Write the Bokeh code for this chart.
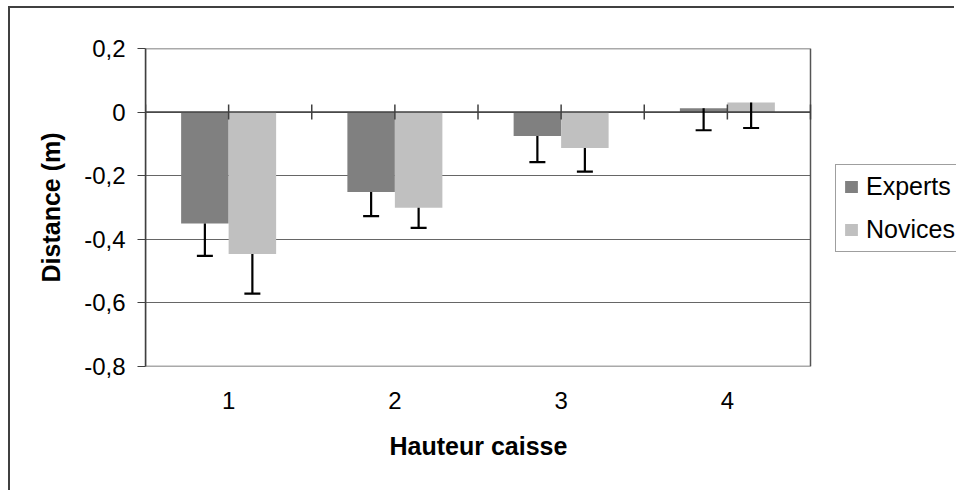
from bokeh.plotting import figure
from bokeh.models import (Range1d, FixedTicker, CustomJSTickFormatter, ColumnDataSource,
                          Whisker, TeeHead, Legend, LegendItem, Title)
from bokeh.embed import file_html
from bokeh.resources import INLINE

# ---- data ----
categories = ["1", "2", "3", "4"]
series_names = ["Experts", "Novices"]
experts = [-0.350, -0.251, -0.075, 0.012]
novices = [-0.446, -0.301, -0.113, 0.030]
experts_err = [0.102, 0.076, 0.082, 0.069]
novices_err = [0.125, 0.063, 0.074, 0.080]
y_ticks = [-0.8, -0.6, -0.4, -0.2, 0.0, 0.2]
x_title = "Hauteur caisse"
y_title = "Distance (m)"

FONT = "Liberation Sans"
EXP_COL = "#808080"
NOV_COL = "#C0C0C0"
AX_COL = "#404040"

# page geometry: the figure is shifted so that a chart-area border can sit at its top-left
OFF_X, OFF_Y = 10, 8
W, H = 956 - OFF_X, 492 - OFF_Y
LEFT, TOP, BOTTOM = 145 - OFF_X, 48 - OFF_Y, 126
PLOT_W = 665                      # width of the actual plot area
FRAME_W = W - LEFT                # frame extends to the right edge (room for the legend)
FRAME_H = H - TOP - BOTTOM

n = len(categories)
x_pos = [i + 1 for i in range(n)]
bw = 2.0 / 7.0  # bar width for a 150% gap
x0 = 0.5
x_plot_end = n + 0.5
x_end = x0 + n * FRAME_W / PLOT_W
y_min, y_max = y_ticks[0], y_ticks[-1]

p = figure(width=W, height=H, output_backend="svg", toolbar_location=None,
           x_range=Range1d(x0, x_end), y_range=Range1d(y_min, y_max),
           min_border_left=LEFT, min_border_right=0, min_border_top=TOP, min_border_bottom=BOTTOM)
p.background_fill_color = "white"
p.border_fill_color = "white"
p.outline_line_color = None
p.styles = {
    "margin-left": f"{OFF_X}px",
    "margin-top": f"{OFF_Y}px",
    "box-shadow": "-2px -2px 0 0 #404040",
}

# grid
p.xgrid.visible = False
p.ygrid.ticker = FixedTicker(ticks=y_ticks)
p.ygrid.grid_line_color = "#666666"
p.ygrid.grid_line_width = 1.2

# y axis
p.yaxis.ticker = FixedTicker(ticks=y_ticks)
p.yaxis.formatter = CustomJSTickFormatter(
    code="if (Math.abs(tick) < 1e-9) { return '0'; } return tick.toFixed(1).replace('.', ',');")
p.yaxis.axis_line_color = AX_COL
p.yaxis.axis_line_width = 1.5
p.yaxis.major_tick_line_color = AX_COL
p.yaxis.major_tick_line_width = 1.2
p.yaxis.major_tick_out = 8
p.yaxis.major_tick_in = 0
p.yaxis.minor_tick_line_color = None
p.yaxis.major_label_text_font = FONT
p.yaxis.major_label_text_font_size = "24px"
p.yaxis.major_label_text_color = "black"
p.yaxis.major_label_standoff = 12
p.yaxis.axis_label = y_title
p.yaxis.axis_label_text_font = FONT
p.yaxis.axis_label_text_font_size = "25px"
p.yaxis.axis_label_text_font_style = "bold"
p.yaxis.axis_label_text_color = "black"
p.yaxis.axis_label_standoff = 16

# x axis (category labels only)
p.xaxis.ticker = FixedTicker(ticks=x_pos)
p.xaxis.major_label_overrides = {x: c for x, c in zip(x_pos, categories)}
p.xaxis.axis_line_color = None
p.xaxis.major_tick_line_color = None
p.xaxis.minor_tick_line_color = None
p.xaxis.major_tick_out = 0
p.xaxis.major_tick_in = 0
p.xaxis.major_label_text_font = FONT
p.xaxis.major_label_text_font_size = "24px"
p.xaxis.major_label_text_color = "black"
p.xaxis.major_label_standoff = 25

# x-axis title, placed under the plot area (the frame is wider, for the legend)
xt = Title(text=x_title, align="left", offset=244, standoff=37,
           text_font=FONT, text_font_size="25px", text_font_style="bold", text_color="black")
p.add_layout(xt, "below")

# white cover for the legend zone (right of the plot area) and the plot-area border
p.quad(left=x_plot_end, right=x_end, bottom=y_min - 1, top=y_max + 1,
       fill_color="white", line_color=None)
p.quad(left=x0, right=x_plot_end, bottom=y_min, top=y_max,
       fill_color=None, line_color="#555555", line_width=1.5)

# bars
src = ColumnDataSource(dict(
    xe=[x - bw / 2 for x in x_pos], xn=[x + bw / 2 for x in x_pos],
    ye=experts, yn=novices,
    le=[v - e for v, e in zip(experts, experts_err)],
    ln=[v - e for v, e in zip(novices, novices_err)],
))
r_exp = p.vbar(x="xe", top="ye", bottom=0, width=bw, source=src,
               fill_color=EXP_COL, line_color=None)
r_nov = p.vbar(x="xn", top="yn", bottom=0, width=bw, source=src,
               fill_color=NOV_COL, line_color=None)

# horizontal category axis crossing at 0
p.segment(x0=[x0], x1=[x_plot_end], y0=[0], y1=[0], line_color=AX_COL, line_width=1.5)
tick_x = [0.5 + 0.5 * k for k in range(2 * n + 1)]
tick_half = 7.5 / FRAME_H * (y_max - y_min)
p.segment(x0=tick_x, x1=tick_x, y0=[-tick_half] * len(tick_x), y1=[tick_half] * len(tick_x),
          line_color=AX_COL, line_width=1.5)

# error bars (minus only)
for xcol, ycol, lcol in (("xe", "ye", "le"), ("xn", "yn", "ln")):
    w = Whisker(source=src, base=xcol, upper=ycol, lower=lcol,
                upper_head=None,
                lower_head=TeeHead(size=16, line_width=2.2, line_color="black"),
                line_color="black", line_width=2.2)
    w.level = "overlay"
    p.add_layout(w)

# legend (page position: left 835, bottom 252)
legend = Legend(items=[LegendItem(label=series_names[0], renderers=[r_exp]),
                       LegendItem(label=series_names[1], renderers=[r_nov])],
                location=(835 - OFF_X - LEFT, TOP + FRAME_H - (252 - OFF_Y)))
legend.label_text_font = FONT
legend.label_text_font_size = "25px"
legend.label_text_color = "black"
legend.glyph_width = 16
legend.glyph_height = 15
legend.label_standoff = 7
legend.padding = 7
legend.spacing = 14
legend.margin = 0
legend.border_line_color = AX_COL
legend.border_line_width = 1
legend.background_fill_color = "white"
legend.background_fill_alpha = 1.0
p.add_layout(legend)

open("out.html", "w").write(file_html(p, INLINE))
